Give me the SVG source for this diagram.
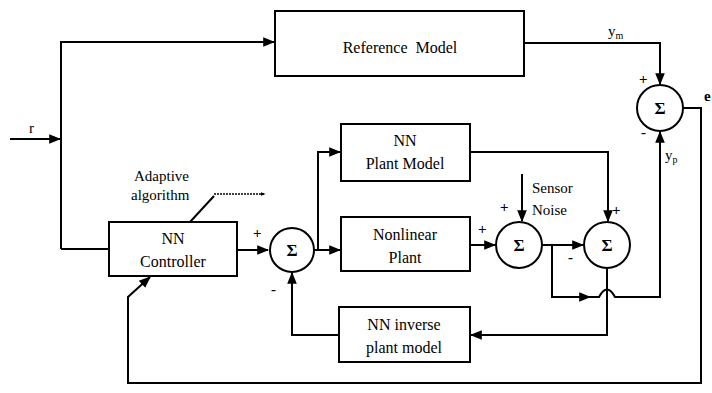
<svg xmlns="http://www.w3.org/2000/svg" width="712" height="393" viewBox="0 0 712 393">
<defs>
<marker id="ah" viewBox="0 0 10 10" refX="9" refY="5" markerWidth="5" markerHeight="5" orient="auto" markerUnits="userSpaceOnUse">
<path d="M0,1 L10,5 L0,9 z" fill="#000"/>
</marker>
<marker id="ahs" viewBox="0 0 10 10" refX="9" refY="5" markerWidth="6" markerHeight="6" orient="auto" markerUnits="strokeWidth">
<path d="M0,1 L10,5 L0,9 z" fill="#000"/>
</marker>
</defs>
<style>
.box{fill:#fff;stroke:#000;stroke-width:2}
.sum{fill:#fff;stroke:#000;stroke-width:2}
.ln{fill:none;stroke:#000;stroke-width:2}
.dot{fill:none;stroke:#000;stroke-width:1.3;stroke-dasharray:2 1}
text{font-family:"Liberation Serif","Times New Roman",serif;fill:#000}
.t{font-size:16px;text-anchor:middle}
.s{font-size:17px;text-anchor:middle;font-weight:bold}
.l{font-size:15px}
.p{font-size:15px;font-weight:bold}
</style>
<rect width="712" height="393" fill="#fff"/>
<g id="connectors">
<path class="ln" d="M10,139 H60" marker-end="url(#ahs)"/>
<path class="ln" d="M61,249 V42 H274" marker-end="url(#ahs)"/>
<path class="ln" d="M61,249 H108"/>
<path class="ln" d="M237,250 H268" marker-end="url(#ahs)"/>
<path class="ln" d="M314,250 H318 V152 H340" marker-end="url(#ahs)"/>
<path class="ln" d="M318,250 H340" marker-end="url(#ahs)"/>
<path class="ln" d="M470,245 H495" marker-end="url(#ahs)"/>
<path class="ln" d="M522,174 V221" marker-end="url(#ahs)"/>
<path class="ln" d="M470,152 H608 V221" marker-end="url(#ahs)"/>
<path class="ln" d="M543,245 H583" marker-end="url(#ahs)"/>
<path class="ln" d="M552,245 V297 H590" marker-end="url(#ahs)"/>
<path class="ln" d="M588,297 H599 Q607,282 615,297 H660 V132" marker-end="url(#ahs)"/>
<path class="ln" d="M607,268 V335 H471" marker-end="url(#ahs)"/>
<path class="ln" d="M339,335 H292 V273" marker-end="url(#ahs)"/>
<path class="ln" d="M524,43 H660 V84" marker-end="url(#ahs)"/>
<path class="ln" d="M683,108 H701 V383 H128 V297 L150,277" marker-end="url(#ahs)"/>
<path class="ln" d="M190,222 L214,196"/>
<path class="dot" d="M214,194 H265" marker-end="url(#ah)"/>
</g>
<g id="reference-model">
<rect class="box" x="275" y="11" width="249" height="65"/>
<text class="t" x="400" y="53" xml:space="preserve">Reference  Model</text>
</g>
<g id="nn-controller">
<rect class="box" x="109" y="222" width="128" height="54"/>
<text class="t" x="173" y="244">NN</text>
<text class="t" x="173" y="267">Controller</text>
</g>
<g id="nn-plant-model">
<rect class="box" x="341" y="124" width="129" height="57"/>
<text class="t" x="405" y="146">NN</text>
<text class="t" x="405" y="169">Plant Model</text>
</g>
<g id="nonlinear-plant">
<rect class="box" x="341" y="217" width="129" height="54"/>
<text class="t" x="405" y="240">Nonlinear</text>
<text class="t" x="405" y="263">Plant</text>
</g>
<g id="nn-inverse">
<rect class="box" x="339" y="307" width="131" height="55"/>
<text class="t" x="404" y="330">NN inverse</text>
<text class="t" x="404" y="353">plant model</text>
</g>
<g id="sum1">
<circle class="sum" cx="292" cy="250" r="22"/>
<text class="s" x="292" y="256">Σ</text>
</g>
<g id="sum2">
<circle class="sum" cx="519" cy="245" r="23"/>
<text class="s" x="519" y="251">Σ</text>
</g>
<g id="sum3">
<circle class="sum" cx="607" cy="245" r="23"/>
<text class="s" x="607" y="251">Σ</text>
</g>
<g id="sum4">
<circle class="sum" cx="660" cy="108" r="23"/>
<text class="s" x="660" y="114">Σ</text>
</g>
<g id="labels">
<text class="l" x="29" y="133">r</text>
<text class="l" x="134" y="181">Adaptive</text>
<text class="l" x="131" y="200">algorithm</text>
<text class="p" x="253" y="238">+</text>
<text class="p" x="271" y="294">-</text>
<text class="p" x="478" y="234">+</text>
<text class="p" x="500" y="212">+</text>
<text class="l" x="532" y="193">Sensor</text>
<text class="l" x="532" y="215">Noise</text>
<text class="p" x="612" y="215">+</text>
<text class="p" x="568" y="262">-</text>
<text class="p" x="639" y="84">+</text>
<text class="p" x="641" y="137">-</text>
<text class="l" x="608" y="36">y<tspan font-size="10" dy="3">m</tspan></text>
<text class="l" x="665" y="160">y<tspan font-size="10" dy="3">p</tspan></text>
<text class="l" x="704" y="101" font-weight="bold">e</text>
</g>
</svg>
